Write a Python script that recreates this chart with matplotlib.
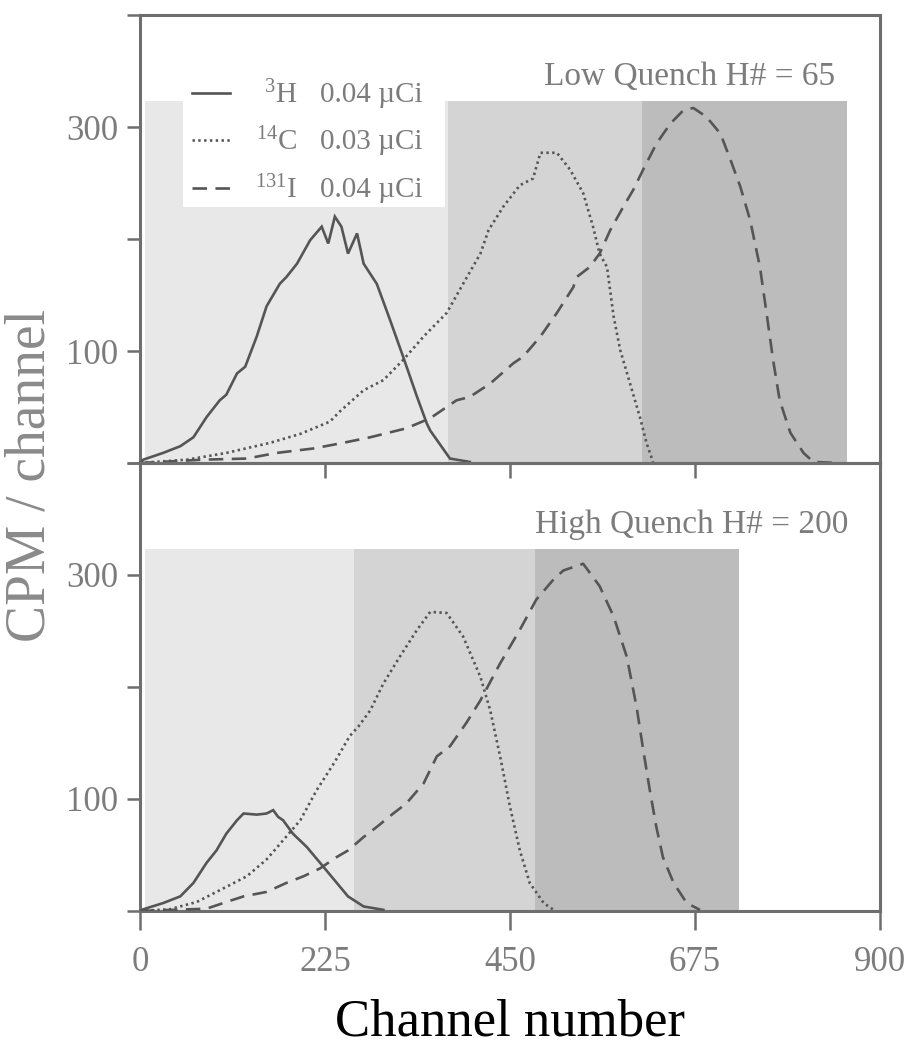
import matplotlib.pyplot as plt
from matplotlib.patches import Rectangle

plt.rcParams['font.family'] = 'Liberation Serif'
plt.rcParams['mathtext.fontset'] = 'custom'
plt.rcParams['mathtext.rm'] = 'Liberation Serif'
plt.rcParams['mathtext.it'] = 'Liberation Serif:italic'

# Low quench, H# = 65
lq_h3_ch = [0, 4, 28, 49, 65, 81, 97, 105, 118, 128, 142, 154, 170, 178, 191, 207, 221, 229, 237, 245,
            253, 264, 272, 288, 304, 320, 337, 349, 353, 377, 401]
lq_h3_cpm = [0, 3, 9, 15, 23, 41, 56, 61, 80, 86, 113, 140, 160, 166, 178, 199, 211, 196, 220, 211,
             187, 205, 178, 160, 128, 95, 59, 35, 29, 4, 1]
lq_c14_ch = [0, 57, 105, 158, 195, 231, 243, 272, 296, 320, 345, 373, 393, 414, 424, 442, 462, 478, 487, 507,
             523, 539, 551, 559, 568, 576, 584, 596, 608, 616, 624]
lq_c14_cpm = [0, 3, 9, 18, 26, 37, 46, 65, 74, 92, 113, 134, 160, 187, 208, 229, 248, 254, 277, 277,
              262, 241, 211, 187, 175, 131, 101, 71, 41, 18, 1]
lq_i131_ch = [0, 77, 130, 166, 211, 247, 280, 324, 353, 361, 385, 401, 426, 454, 466, 487, 507, 527, 531, 547,
              559, 572, 588, 600, 612, 628, 645, 661, 673, 689, 706, 718, 730, 742, 754, 762, 770, 778, 791, 807,
              819, 850]
lq_i131_cpm = [0, 3, 4, 9, 13, 18, 23, 31, 40, 44, 56, 59, 71, 89, 95, 113, 134, 157, 166, 175,
               187, 208, 229, 244, 262, 285, 303, 315, 317, 309, 294, 271, 247, 217, 175, 134, 92, 56, 27, 9,
               1, 0]

# High quench, H# = 200
hq_h3_ch = [0, 4, 28, 49, 65, 81, 93, 105, 118, 126, 142, 154, 162, 168, 174, 186, 203, 219, 236, 253, 272, 296]
hq_h3_cpm = [0, 1.5, 7, 13, 25, 43, 54, 69, 81, 87, 86, 87, 90, 84, 81, 69, 57, 43, 28, 13, 4, 1]
hq_c14_ch = [0, 36, 69, 101, 130, 154, 174, 195, 215, 236, 255, 266, 280, 296, 316, 337, 353, 373, 393, 414,
             426, 438, 450, 462, 474, 491, 503]
hq_c14_cpm = [0, 1.5, 8, 20, 31, 46, 63, 81, 108, 132, 156, 165, 179, 203, 227, 251, 267, 266, 245, 209,
              179, 138, 93, 54, 25, 7, 1]
hq_i131_ch = [0, 81, 105, 126, 154, 178, 199, 219, 239, 253, 272, 288, 308, 324, 345, 361, 377, 397, 414, 438,
              462, 482, 503, 515, 539, 559, 576, 592, 604, 612, 620, 628, 636, 649, 665, 681]
hq_i131_cpm = [0, 2, 8, 13, 17, 25, 31, 38, 48, 54, 66, 75, 87, 96, 114, 138, 147, 168, 188, 221,
               251, 278, 296, 304, 310, 290, 263, 227, 182, 144, 108, 75, 48, 25, 7, 1]

# counting windows (channel edges) and their height
lq_windows = [6, 375, 610, 860]
hq_windows = [6, 260, 480, 728]
window_top = 323

isotopes = [r'$^{3}$H', r'$^{14}$C', r'$^{131}$I']
activity = ['0.04 \u00b5Ci', '0.03 \u00b5Ci', '0.04 \u00b5Ci']
panel_titles = ['Low Quench H# = 65', 'High Quench H# = 200']

line_col = '#555555'
axis_col = '#6e6e6e'
text_col = '#7c7c7c'
window_cols = ['#e8e8e8', '#d4d4d4', '#bcbcbc']
styles = ['-', (0, (0.9, 1.3)), (0, (5.5, 3.2))]


def panel(ax, spectra, windows, title, show_xlabels):
    for k in range(3):
        ax.fill_between([windows[k], windows[k + 1]], 0, window_top,
                        color=window_cols[k], lw=0, zorder=1)
    for (ch, cpm), ls in zip(spectra, styles):
        ax.plot(ch, cpm, color=line_col, lw=1.9, ls=ls, zorder=4,
                solid_joinstyle='miter', dash_capstyle='butt')
    ax.text(0.94 if not show_xlabels else 0.957, 0.862, title, transform=ax.transAxes,
            ha='right', va='center', fontsize=24, color=text_col, zorder=5)

    ax.set_xlim(0, 900)
    ax.set_ylim(0, 400)
    ax.set_xticks([0, 225, 450, 675, 900])
    ax.set_yticks([0, 100, 200, 300, 400])
    ax.set_yticklabels(['', '100', '', '300', ''])
    for s in ax.spines.values():
        s.set_color(axis_col)
        s.set_linewidth(2.2)
    ax.tick_params(axis='y', direction='out', length=9.5, width=1.8, color=axis_col,
                   labelsize=25, labelcolor=text_col, pad=6)
    if show_xlabels:
        ax.tick_params(axis='x', direction='out', length=14, width=1.8, color=axis_col,
                       labelsize=25, labelcolor=text_col, pad=11)
    else:
        ax.tick_params(axis='x', direction='out', length=11, width=1.8, color=axis_col,
                       labelbottom=False)


fig = plt.figure(figsize=(9.06, 10.49), dpi=100)
ax1 = fig.add_axes([0.1545, 0.5586, 0.8168, 0.4271])
ax2 = fig.add_axes([0.1545, 0.1316, 0.8168, 0.4271])
ax2.patch.set_visible(False)

panel(ax1, [(lq_h3_ch, lq_h3_cpm), (lq_c14_ch, lq_c14_cpm), (lq_i131_ch, lq_i131_cpm)],
      lq_windows, panel_titles[0], False)
panel(ax2, [(hq_h3_ch, hq_h3_cpm), (hq_c14_ch, hq_c14_cpm), (hq_i131_ch, hq_i131_cpm)],
      hq_windows, panel_titles[1], True)

# key in the upper panel
ax1.add_patch(Rectangle((0.058, 0.571), 0.354, 0.25, transform=ax1.transAxes,
                        facecolor='white', edgecolor='none', zorder=3))
for row, (iso, act, ls) in enumerate(zip(isotopes, activity, styles)):
    y = 0.826 - row * 0.106
    ax1.plot([0.070, 0.122], [y, y], transform=ax1.transAxes, color=line_col,
             lw=1.9, ls=ls, zorder=5, dash_capstyle='butt')
    ax1.text(0.212, y - 0.004, iso, transform=ax1.transAxes, ha='right', va='center',
             fontsize=21, color=text_col, zorder=5)
    ax1.text(0.243, y - 0.004, act, transform=ax1.transAxes, ha='left', va='center',
             fontsize=21, color=text_col, zorder=5)

ax2.set_xlabel('Channel number', fontsize=38, color='black', labelpad=14)
fig.text(0.034, 0.547, 'CPM / channel', rotation=90, ha='center', va='center',
         fontsize=40, color='#8a8a8a')

fig.savefig('out.png', dpi=100)
